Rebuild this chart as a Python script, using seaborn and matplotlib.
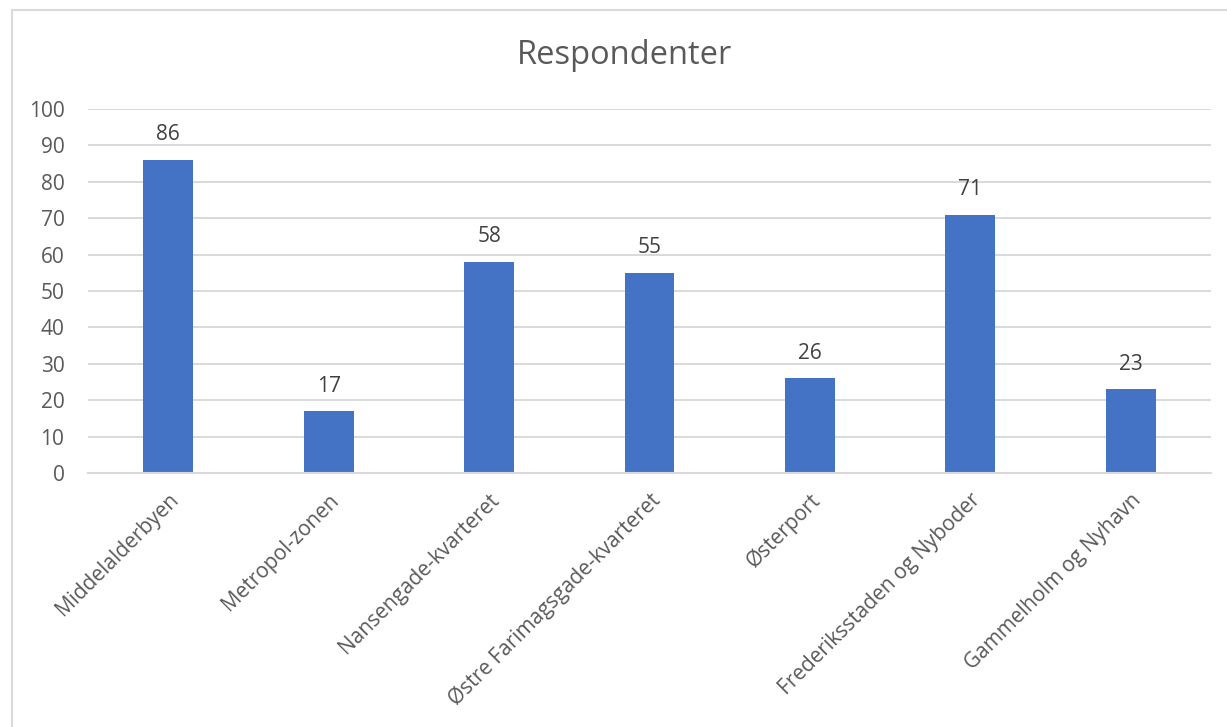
import matplotlib
matplotlib.use("Agg")
import matplotlib.pyplot as plt
import seaborn as sns
import pandas as pd
from matplotlib.lines import Line2D

categories = ["Middelalderbyen", "Metropol-zonen", "Nansengade-kvarteret",
              "Østre Farimagsgade-kvarteret", "Østerport",
              "Frederiksstaden og Nyboder", "Gammelholm og Nyhavn"]
values = [86, 17, 58, 55, 26, 71, 23]
y_ticks = [0, 10, 20, 30, 40, 50, 60, 70, 80, 90, 100]
title = "Respondenter"

sns.set_theme(style="white")
plt.rcParams['font.family'] = ['Open Sans', 'DejaVu Sans']

df = pd.DataFrame({"cat": categories, "val": values})

fig = plt.figure(figsize=(12.27, 7.27), dpi=100)
ax = fig.add_axes([88/1227, 1-473/727, (1211-88)/1227, (473-109)/727])

sns.barplot(data=df, x="cat", y="val", color="#4472C4", width=0.31,
            saturation=1, ax=ax, zorder=3, linewidth=0)

ax.set_ylim(0, 100)
ax.set_xlim(-0.5, len(categories)-0.5)
ax.set_yticks(y_ticks)
ax.yaxis.grid(True, color="#d9d9d9", linewidth=1.4, zorder=0)
ax.xaxis.grid(False)
for s in ["top", "right", "left"]:
    ax.spines[s].set_visible(False)
ax.spines["bottom"].set_color("#d9d9d9")
ax.spines["bottom"].set_linewidth(1.5)
ax.spines["bottom"].set_zorder(4)
ax.set_xlabel("")
ax.set_ylabel("")
ax.tick_params(axis="y", length=0, pad=17, labelsize=15, labelcolor="#595959")
ax.tick_params(axis="x", length=0, pad=12, labelsize=15, labelcolor="#595959")
plt.setp(ax.get_xticklabels(), rotation=45, ha="right", va="top",
         rotation_mode="anchor")

for i, v in enumerate(values):
    ax.annotate(str(v), (i, v), xytext=(0, 18), textcoords="offset points",
                ha="center", va="center", fontsize=15, color="#404040")

fig.text(625/1227, 1-55/727, title, ha="center", va="center",
         fontsize=23.5, color="#595959")

fig.add_artist(Line2D([12/1227, 12/1227], [0, 1-10/727], color="#d9d9d9",
                      linewidth=1.5, transform=fig.transFigure))
fig.add_artist(Line2D([12/1227, 1], [1-10/727, 1-10/727], color="#d9d9d9",
                      linewidth=1.5, transform=fig.transFigure))

fig.savefig("out.png", dpi=100)
